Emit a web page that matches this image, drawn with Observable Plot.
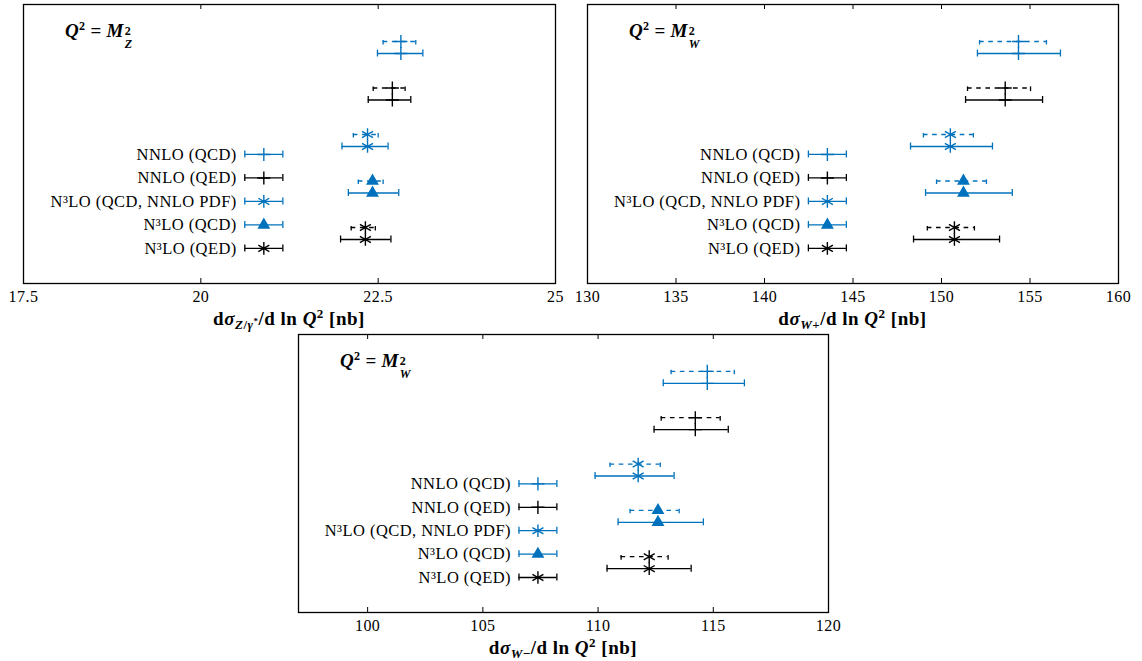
<!DOCTYPE html>
<html><head><meta charset="utf-8">
<script src="https://cdn.jsdelivr.net/npm/d3@7"></script>
<script src="https://cdn.jsdelivr.net/npm/@observablehq/plot@0.6"></script>
<style>
body{margin:0;background:#fff;}
#root{position:relative;width:1142px;height:661px;font-family:"Liberation Serif","Times New Roman","DejaVu Serif",serif;color:#000;}
#root svg, #root svg text{font-family:"Liberation Serif","Times New Roman","DejaVu Serif",serif;letter-spacing:0.45px;}
.panel{position:absolute;}
.title{position:absolute;font-weight:bold;font-size:19px;line-height:1;white-space:nowrap;letter-spacing:0.3px;}
.title i{font-style:italic;}
.ss{position:relative;display:inline-block;width:12px;height:1px;}
.ss .up{position:absolute;left:1px;top:-11px;font-size:12px;line-height:1;}
.ss .dn{position:absolute;left:1px;top:2px;font-size:12px;line-height:1;font-style:italic;}
.xlabel{position:absolute;font-weight:bold;font-size:19px;line-height:1;text-align:center;white-space:nowrap;transform:translateX(-50%);letter-spacing:0.5px;}
.xlabel i{font-style:italic;}
.xlabel sub{font-size:13px;vertical-align:-4px;line-height:0;}
.xlabel sup{font-size:13px;vertical-align:7px;line-height:0;}
</style></head><body><div id="root"></div>
<script>
// ---- categories / legend ----
const series = ["NNLO (QCD)", "NNLO (QED)", "N³LO (QCD, NNLO PDF)", "N³LO (QCD)", "N³LO (QED)"];
const seriesColor = ["#0072bd", "#000000", "#0072bd", "#0072bd", "#000000"];
const seriesSymbol = ["plus", "plus", "asterisk", "triangle", "asterisk"];

// ---- panel 1: Q^2 = M_Z^2, dσ_{Z/γ*}/dlnQ^2 [nb] ----
const zTicks = [17.5, 20, 22.5, 25];
const zCenter  = [22.82, 22.70, 22.35, 22.42, 22.32];
const zDashLo  = [22.57, 22.43, 22.15, 22.22, 22.12];
const zDashHi  = [23.03, 22.88, 22.50, 22.57, 22.46];
const zSolidLo = [22.49, 22.36, 21.99, 22.08, 21.97];
const zSolidHi = [23.13, 22.96, 22.64, 22.79, 22.68];

// ---- panel 2: Q^2 = M_W^2, dσ_{W+} ----
const wpTicks = [130, 135, 140, 145, 150, 155, 160];
const wpCenter  = [154.35, 153.60, 150.50, 151.24, 150.73];
const wpDashLo  = [152.15, 151.47, 148.98, 149.72, 149.20];
const wpDashHi  = [155.93, 155.03, 151.80, 152.54, 151.86];
const wpSolidLo = [152.03, 151.36, 148.25, 149.10, 148.42];
const wpSolidHi = [156.72, 155.71, 152.88, 154.00, 153.28];

// ---- panel 3: Q^2 = M_W^2, dσ_{W-} ----
const wmTicks = [100, 105, 110, 115, 120];
const wmCenter  = [114.74, 114.22, 111.74, 112.60, 112.22];
const wmDashLo  = [113.17, 112.74, 110.52, 111.39, 111.00];
const wmDashHi  = [115.91, 115.30, 112.70, 113.52, 113.04];
const wmSolidLo = [112.83, 112.43, 109.87, 110.87, 110.39];
const wmSolidHi = [116.35, 115.65, 113.30, 114.57, 114.04];

const panels = [
  {domain: [17.5, 25], ticks: zTicks, center: zCenter, dLo: zDashLo, dHi: zDashHi, sLo: zSolidLo, sHi: zSolidHi,
   frame: {left: 23, top: 4, width: 532, height: 279},
   title: 'M', titleSub: 'Z', label: '<i>σ</i><sub><i>Z</i>/<i>γ</i><span style="font-size:9px;position:relative;top:-5px">*</span></sub>'},
  {domain: [130, 160], ticks: wpTicks, center: wpCenter, dLo: wpDashLo, dHi: wpDashHi, sLo: wpSolidLo, sHi: wpSolidHi,
   frame: {left: 587, top: 4, width: 531, height: 279},
   title: 'M', titleSub: 'W', label: '<i>σ</i><sub><i>W</i>+</sub>'},
  {domain: [97, 120], ticks: wmTicks, center: wmCenter, dLo: wmDashLo, dHi: wmDashHi, sLo: wmSolidLo, sHi: wmSolidHi,
   frame: {left: 298, top: 334, width: 530, height: 278},
   title: 'M', titleSub: 'W', label: '<i>σ</i><sub><i>W</i>−</sub>'}
];

const symbolR = {plus: 4.3, asterisk: 6.0, triangle: 4.8};
const yDomain = [-0.925, 5.075];
const off = 0.129, cap = 0.075;
const DASH = "4.6,4.6";
const LW = 1.3;
const FONT = '"Liberation Serif", "Times New Roman", "DejaVu Serif", serif';

function dotOpts(sym, col) {
  const o = {symbol: sym, r: symbolR[sym]};
  if (sym === "triangle") { o.fill = col; o.stroke = "none"; }
  else { o.stroke = col; o.fill = "none"; o.strokeWidth = 1.4; }
  return o;
}

const root = document.getElementById("root");

panels.forEach(p => {
  const mL = 20, mR = 20, mT = 4, mB = 26;
  const span = p.domain[1] - p.domain[0];
  const marks = [];
  series.forEach((name, i) => {
    const col = seriesColor[i], sym = seriesSymbol[i];
    const rows = [
      {y: i - off, c: p.center[i], lo: p.dLo[i], hi: p.dHi[i], dash: DASH},
      {y: i + off, c: p.center[i], lo: p.sLo[i], hi: p.sHi[i], dash: undefined}
    ];
    rows.forEach(r => {
      marks.push(Plot.ruleY([r], {y: "y", x1: "lo", x2: "hi", stroke: col, strokeWidth: LW, strokeDasharray: r.dash}));
      marks.push(Plot.ruleX([r.lo, r.hi], {x: d => d, y1: r.y + cap, y2: r.y - cap, stroke: col, strokeWidth: LW, strokeDasharray: r.dash}));
      marks.push(Plot.dot([r], {x: "c", y: "y", ...dotOpts(sym, col)}));
    });
    // legend entry
    const ly = 2.3 + 0.505 * i;
    const lx1 = p.domain[0] + 0.416 * span, lx2 = p.domain[0] + 0.4875 * span;
    const lg = {y: ly, x1: lx1, x2: lx2, c: (lx1 + lx2) / 2, name};
    marks.push(Plot.ruleY([lg], {y: "y", x1: "x1", x2: "x2", stroke: col, strokeWidth: LW}));
    marks.push(Plot.ruleX([lx1, lx2], {x: d => d, y1: ly - cap, y2: ly + cap, stroke: col, strokeWidth: LW}));
    marks.push(Plot.dot([lg], {x: "c", y: "y", ...dotOpts(sym, col)}));
    marks.push(Plot.text([lg], {x: "x1", y: "y", text: "name", textAnchor: "end", dx: -8, fontSize: 16.5, fontFamily: FONT, fill: "black"}));
  });
  // inward ticks bottom and top
  marks.push(Plot.tickX(p.ticks, {x: d => d, insetTop: p.frame.height - 5, stroke: "black", strokeWidth: 1}));
  marks.push(Plot.tickX(p.ticks, {x: d => d, insetBottom: p.frame.height - 5, stroke: "black", strokeWidth: 1}));
  marks.push(Plot.axisX(p.ticks, {tickSize: 0, tickPadding: 7, tickFormat: d => String(d), label: null, fontSize: 16, fontFamily: FONT}));
  marks.push(Plot.frame({stroke: "black", strokeWidth: 1.3}));

  const svg = Plot.plot({
    width: p.frame.width + mL + mR,
    height: p.frame.height + mT + mB,
    marginLeft: mL, marginRight: mR, marginTop: mT, marginBottom: mB,
    x: {domain: p.domain},
    y: {domain: yDomain, reverse: true, axis: null},
    style: {background: "none", fontFamily: FONT, fontSize: "16px", color: "black", overflow: "visible"},
    marks
  });
  const holder = document.createElement("div");
  holder.className = "panel";
  holder.style.left = (p.frame.left - mL) + "px";
  holder.style.top = (p.frame.top - mT) + "px";
  holder.appendChild(svg);
  root.appendChild(holder);

  const t = document.createElement("div");
  t.className = "title";
  t.style.left = (p.frame.left + 42) + "px";
  t.style.top = (p.frame.top + 17) + "px";
  t.innerHTML = '<i>Q</i><sup style="font-size:12px;vertical-align:7px;line-height:0">2</sup> = <i>' + p.title +
    '</i><span class="ss"><span class="up">2</span><span class="dn">' + p.titleSub + '</span></span>';
  root.appendChild(t);

  const xl = document.createElement("div");
  xl.className = "xlabel";
  xl.style.left = (p.frame.left + p.frame.width / 2) + "px";
  xl.style.top = (p.frame.top + p.frame.height + 26) + "px";
  xl.innerHTML = 'd' + p.label + '/d ln <i>Q</i><sup>2</sup> [nb]';
  root.appendChild(xl);
});
</script>
</body></html>
